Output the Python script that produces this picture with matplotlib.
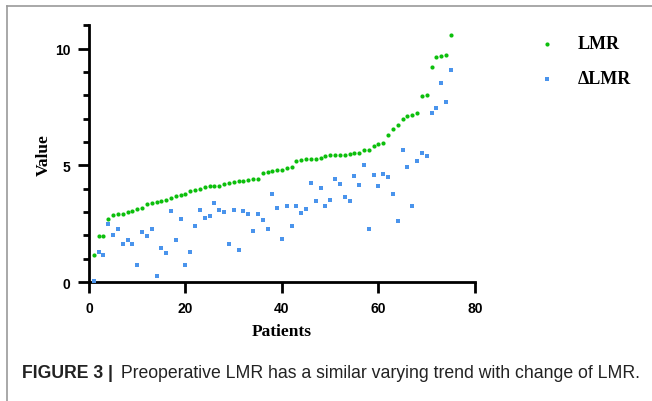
import numpy as np
import matplotlib
matplotlib.use("Agg")
import matplotlib.pyplot as plt
from matplotlib.ticker import MultipleLocator
from matplotlib.lines import Line2D

# values (patients 1..75)
patients = np.arange(1, 76)
lmr = [1.17, 1.97, 1.98, 2.71, 2.89, 2.92, 2.93, 3.01, 3.06, 3.11,
       3.17, 3.36, 3.38, 3.41, 3.47, 3.53, 3.60, 3.67, 3.73, 3.77,
       3.89, 3.94, 4.00, 4.06, 4.11, 4.11, 4.13, 4.19, 4.24, 4.30,
       4.31, 4.33, 4.37, 4.43, 4.43, 4.67, 4.71, 4.76, 4.79, 4.80,
       4.89, 4.91, 5.17, 5.21, 5.26, 5.27, 5.27, 5.31, 5.39, 5.43,
       5.43, 5.43, 5.43, 5.50, 5.53, 5.54, 5.64, 5.67, 5.83, 5.93,
       5.94, 6.29, 6.54, 6.74, 7.00, 7.10, 7.14, 7.26, 7.96, 8.00,
       9.23, 9.64, 9.70, 9.71, 10.60]
delta_lmr = [0.03, 1.30, 1.17, 2.47, 2.00, 2.26, 1.64, 1.80, 1.64, 0.71,
             2.14, 1.97, 2.26, 0.27, 1.47, 1.26, 3.04, 1.80, 2.69, 0.74,
             1.29, 2.39, 3.07, 2.73, 2.83, 3.37, 3.07, 3.01, 1.64, 3.07,
             1.36, 3.04, 2.93, 2.17, 2.90, 2.67, 2.26, 3.77, 3.17, 1.83,
             3.26, 2.39, 3.26, 2.94, 3.13, 4.23, 3.49, 4.01, 3.26, 3.51,
             4.43, 4.19, 3.66, 3.46, 4.54, 4.16, 5.03, 2.29, 4.59, 4.13,
             4.64, 4.51, 3.76, 2.63, 5.66, 4.94, 3.26, 5.19, 5.51, 5.40,
             7.24, 7.44, 8.53, 7.70, 9.07]

x_ticks = [0, 20, 40, 60, 80]
y_ticks = [0, 5, 10]

green = '#0cbf0c'
blue = '#4a94ec'
serif = ['Liberation Serif', 'DejaVu Serif']
sans = ['Liberation Sans', 'DejaVu Sans']

fig = plt.figure(figsize=(6.52, 4.02), dpi=100)
ax = fig.add_axes([0.1365, 0.296, 0.592, 0.6384])

ax.scatter(patients, lmr, s=9, marker='o', color=green, linewidths=0,
           label='LMR', zorder=3, clip_on=False)
ax.scatter(patients, delta_lmr, s=9, marker='s', color=blue, linewidths=0,
           label='ΔLMR', zorder=3, clip_on=False)

ax.set_xlim(0, 80)
ax.set_ylim(0, 11)
ax.set_xticks(x_ticks)
ax.set_yticks(y_ticks)
ax.yaxis.set_minor_locator(MultipleLocator(1))

for side in ['top', 'right']:
    ax.spines[side].set_visible(False)
for side in ['left', 'bottom']:
    ax.spines[side].set_linewidth(2.0)

ax.tick_params(axis='both', which='major', length=8, width=2.0, pad=5.5)
ax.tick_params(axis='y', which='minor', length=4.5, width=2.0)
for lab in ax.get_xticklabels() + ax.get_yticklabels():
    lab.set_family(sans)
    lab.set_fontweight('bold')
    lab.set_fontsize(10)

ax.set_xlabel('Patients', family=serif, fontweight='bold', fontsize=12.5, labelpad=6)
ax.set_ylabel('Value', family=serif, fontweight='bold', fontsize=12.5, labelpad=2)

leg = ax.legend(loc='upper left', bbox_to_anchor=(0.80, 0.95),
                bbox_transform=fig.transFigure, frameon=False,
                handlelength=1.0, handletextpad=1.2, labelspacing=1.0,
                markerscale=1.0, prop={'family': serif, 'weight': 'bold', 'size': 13})

# caption: bold label followed directly by the sentence
cap1 = fig.text(0.034, 0.072, 'FIGURE 3 |', family=sans, fontweight='bold',
                fontsize=12.7, color='#222222', va='center')
ax.annotate(' Preoperative LMR has a similar varying trend with change of LMR.',
            xy=(1, 0.5), xycoords=cap1, xytext=(2, 0), textcoords='offset points',
            va='center', ha='left', family=sans, fontsize=12.7, color='#222222',
            annotation_clip=False)

# frame lines left and top
fig.add_artist(Line2D([0.011, 0.011], [0, 0.983], transform=fig.transFigure,
                      color='#9a9a9a', lw=1.2))
fig.add_artist(Line2D([0.011, 1.0], [0.983, 0.983], transform=fig.transFigure,
                      color='#9a9a9a', lw=1.2))

fig.savefig('out.png', dpi=100)
